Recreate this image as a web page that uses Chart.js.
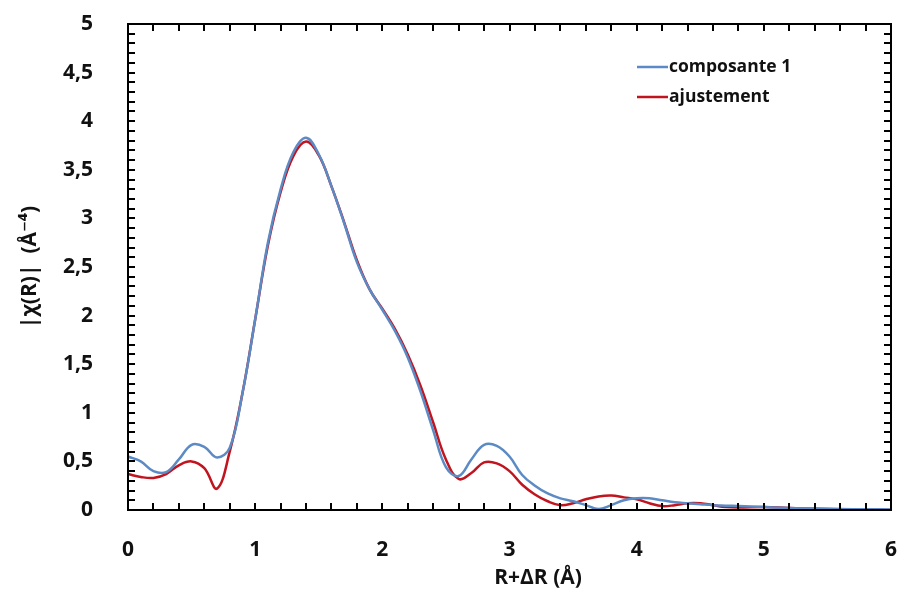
<!DOCTYPE html>
<html>
<head>
<meta charset="utf-8">
<title>|χ(R)|</title>
<script src="https://cdn.jsdelivr.net/npm/chart.js@4.4.1/dist/chart.umd.min.js"></script>
<style>
    html, body { margin: 0; padding: 0; background: #fff; }
    #wrap { width: 897px; height: 594px; }
</style>
</head>
<body>
<div id="wrap"><canvas id="chiChart"></canvas></div>
<script>
// R+dR values (Å), shared by both series
var rValues = [0, 0.1, 0.2, 0.3, 0.4, 0.5, 0.6, 0.7, 0.8, 0.9,
    1, 1.1, 1.2, 1.3, 1.4, 1.5, 1.6, 1.7, 1.8, 1.9,
    2, 2.1, 2.2, 2.3, 2.4, 2.5, 2.6, 2.7, 2.8, 2.9,
    3, 3.1, 3.2, 3.3, 3.4, 3.5, 3.6, 3.7, 3.8, 3.9,
    4, 4.1, 4.2, 4.3, 4.4, 4.5, 4.6, 4.7, 4.8,
    5, 5.2, 5.4, 5.6, 5.8, 6]
var composante1 = [0.55, 0.50, 0.40, 0.39, 0.52, 0.67, 0.65, 0.54, 0.64, 1.2,
    1.96, 2.75, 3.30, 3.68, 3.83, 3.66, 3.33, 2.95, 2.55, 2.27,
    2.06, 1.84, 1.57, 1.22, 0.82, 0.44, 0.35, 0.52, 0.67, 0.66,
    0.55, 0.36, 0.25, 0.17, 0.12, 0.09, 0.05, 0.01, 0.05, 0.10,
    0.12, 0.12, 0.10, 0.08, 0.07, 0.06, 0.05, 0.045, 0.04,
    0.03, 0.02, 0.015, 0.01, 0.008, 0.005]
var ajustement = [0.37, 0.34, 0.33, 0.37, 0.46, 0.50, 0.43, 0.22, 0.60, 1.2,
    1.96, 2.72, 3.27, 3.64, 3.79, 3.65, 3.33, 2.96, 2.57, 2.27,
    2.07, 1.86, 1.60, 1.28, 0.90, 0.52, 0.32, 0.38, 0.49, 0.48,
    0.40, 0.26, 0.16, 0.09, 0.05, 0.07, 0.11, 0.14, 0.15, 0.13,
    0.11, 0.07, 0.04, 0.05, 0.07, 0.07, 0.05, 0.03, 0.025,
    0.03, 0.02, 0.012, 0.008, 0.004, 0]
var seriesNames = ['composante 1', 'ajustement']
var seriesColors = ['#5b8ac4', '#c0141f']
var xTicks = [0, 1, 2, 3, 4, 5, 6]
var yTicks = [0, 0.5, 1, 1.5, 2, 2.5, 3, 3.5, 4, 4.5, 5]
var xTitle = 'R+ΔR (Å)'
var yTitle = '|χ(R)|  (Å⁻⁴)'

var labelFont = { family: "'Open Sans', 'DejaVu Sans', sans-serif", size: 21, weight: 'bold' }

function toPoints(ys) {
    return rValues.map(function (r, i) { return { x: r, y: ys[i] } })
}
function commaLabel(value) {
    return value.toString().replace('.', ',')
}
function noScalePadding(scale) {
    scale.paddingTop = 0
    scale.paddingBottom = 0
    scale.paddingLeft = 0
    scale.paddingRight = 0
}

// box round the plot, with inward ticks on all four sides
var framePlugin = {
    id: 'frame',
    afterDatasetsDraw: function (chart) {
        var ctx = chart.ctx
        var area = chart.chartArea
        var xs = chart.scales.x
        var ys = chart.scales.y
        var len = 7
        ctx.save()
        ctx.strokeStyle = '#000'
        ctx.lineWidth = 2
        ctx.beginPath()
        for (var i = 0; i <= 30; i++) {
            var px = Math.round(xs.getPixelForValue(i * 0.2))
            ctx.moveTo(px, area.bottom)
            ctx.lineTo(px, area.bottom - len)
            ctx.moveTo(px, area.top)
            ctx.lineTo(px, area.top + len)
        }
        for (var j = 0; j <= 50; j++) {
            var py = Math.round(ys.getPixelForValue(j * 0.1))
            ctx.moveTo(area.left, py)
            ctx.lineTo(area.left + len, py)
            ctx.moveTo(area.right, py)
            ctx.lineTo(area.right - len, py)
        }
        ctx.stroke()
        ctx.strokeRect(area.left, area.top, area.right - area.left, area.bottom - area.top)
        ctx.restore()
    }
}

// legend inside the plot, top right
var legendPlugin = {
    id: 'innerLegend',
    afterDatasetsDraw: function (chart) {
        var ctx = chart.ctx
        var x0 = 637
        var y0 = 67
        ctx.save()
        ctx.font = "bold 17.5px 'Open Sans', 'DejaVu Sans', sans-serif"
        ctx.textBaseline = 'middle'
        chart.data.datasets.forEach(function (ds, i) {
            var y = y0 + i * 30
            ctx.strokeStyle = ds.borderColor
            ctx.lineWidth = 2.5
            ctx.beginPath()
            ctx.moveTo(x0, y)
            ctx.lineTo(x0 + 31, y)
            ctx.stroke()
            ctx.fillStyle = '#111'
            ctx.fillText(ds.label, x0 + 32, y)
        })
        ctx.restore()
    }
}

// x axis title sits a bit right of the plot centre in the original
var xTitlePlugin = {
    id: 'xTitle',
    afterDraw: function (chart) {
        var ctx = chart.ctx
        ctx.save()
        ctx.font = "bold 21px 'Open Sans', 'DejaVu Sans', sans-serif"
        ctx.fillStyle = '#111'
        ctx.textAlign = 'center'
        ctx.textBaseline = 'middle'
        ctx.fillText(xTitle, 538, 578)
        ctx.restore()
    }
}

var chiChart = new Chart(document.getElementById('chiChart'), {
    type: 'line',
    data: {
        datasets: [{
            label: seriesNames[0],
            data: toPoints(composante1),
            borderColor: seriesColors[0],
            borderWidth: 2.5,
            pointRadius: 0,
            tension: 0.4
        }, {
            label: seriesNames[1],
            data: toPoints(ajustement),
            borderColor: seriesColors[1],
            borderWidth: 2.5,
            pointRadius: 0,
            tension: 0.4
        }]
    },
    options: {
        responsive: true,
        maintainAspectRatio: false,
        animation: false,
        layout: {
            padding: { top: 24, right: 6, left: 0, bottom: 0 }
        },
        scales: {
            x: {
                type: 'linear',
                min: 0,
                max: 6,
                afterBuildTicks: function (scale) {
                    scale.ticks = xTicks.map(function (v) { return { value: v } })
                },
                afterFit: function (scale) {
                    scale.height = 84
                    noScalePadding(scale)
                },
                grid: { display: false },
                border: { display: false },
                ticks: {
                    color: '#111',
                    font: labelFont,
                    padding: 19,
                    maxRotation: 0,
                    callback: commaLabel
                }
            },
            y: {
                type: 'linear',
                min: 0,
                max: 5,
                afterBuildTicks: function (scale) {
                    scale.ticks = yTicks.map(function (v) { return { value: v } })
                },
                afterFit: function (scale) {
                    scale.width = 128
                    noScalePadding(scale)
                },
                grid: { display: false },
                border: { display: false },
                ticks: {
                    color: '#111',
                    font: labelFont,
                    padding: 27,
                    callback: commaLabel
                },
                title: {
                    display: true,
                    text: yTitle,
                    color: '#111',
                    font: labelFont,
                    padding: { top: 17, bottom: 0 }
                }
            }
        },
        plugins: {
            legend: { display: false },
            tooltip: { enabled: false }
        }
    },
    plugins: [framePlugin, legendPlugin, xTitlePlugin]
})
</script>
</body>
</html>
